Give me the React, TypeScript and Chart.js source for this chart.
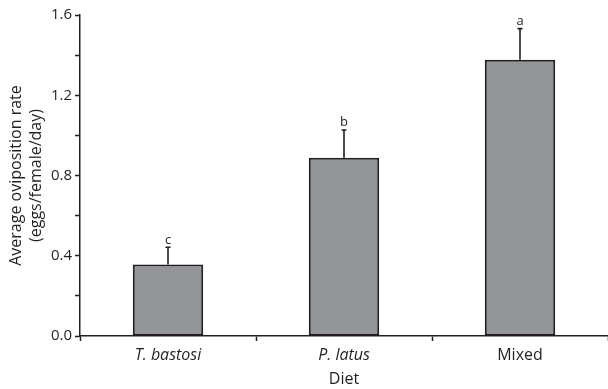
import React, { useEffect, useRef } from "react";
import { Chart, registerables } from "chart.js";

Chart.register(...registerables);

const categories = ["T. bastosi", "P. latus", "Mixed"];
const italicCats = [true, true, false];
const means = [0.357, 0.889, 1.377];
const errors = [0.085, 0.138, 0.155];
const letters = ["c", "b", "a"];

const INK = "#231f20";
const FONT = "'Open Sans', sans-serif";

const errorPlugin = {
  id: "errorLetters",
  afterDatasetsDraw(chart: any) {
    const ctx = chart.ctx;
    const meta = chart.getDatasetMeta(0);
    const y = chart.scales.y;
    ctx.save();
    ctx.strokeStyle = INK;
    ctx.fillStyle = INK;
    ctx.lineWidth = 1.6;
    meta.data.forEach((bar: any, i: number) => {
      const x = bar.x;
      const yTop = y.getPixelForValue(means[i]);
      const yErr = y.getPixelForValue(means[i] + errors[i]);
      ctx.beginPath();
      ctx.moveTo(x, yTop);
      ctx.lineTo(x, yErr);
      ctx.moveTo(x - 2.5, yErr);
      ctx.lineTo(x + 2.5, yErr);
      ctx.stroke();
      ctx.font = `13px ${FONT}`;
      ctx.textAlign = "center";
      ctx.textBaseline = "bottom";
      ctx.fillText(letters[i], x, yErr - 1);
    });
    ctx.restore();
  },
};

export default function App() {
  const ref = useRef<HTMLCanvasElement>(null);
  useEffect(() => {
    if (!ref.current) return;
    const chart = new Chart(ref.current, {
      type: "bar",
      data: {
        labels: categories,
        datasets: [
          {
            data: means,
            backgroundColor: "#939598",
            borderColor: INK,
            borderWidth: 2,
            borderSkipped: false,
            barPercentage: 0.4,
            categoryPercentage: 1,
          },
        ],
      },
      plugins: [errorPlugin],
      options: {
        animation: false,
        responsive: false,
        layout: { padding: { top: 15, right: 0, left: 0, bottom: 0 } },
        plugins: { legend: { display: false }, tooltip: { enabled: false } },
        scales: {
          x: {
            offset: true,
            grid: {
              display: true,
              offset: true,
              drawOnChartArea: false,
              drawTicks: true,
              tickLength: 5,
              tickColor: INK,
              tickWidth: 1.5,
            },
            border: { display: true, color: INK, width: 1.5 },
            ticks: {
              color: INK,
              padding: 5,
              font: (c: any) => ({
                family: FONT,
                size: 16,
                style: italicCats[c.index] ? "italic" : "normal",
              }),
            },
            title: {
              display: true,
              text: "Diet",
              color: INK,
              font: { family: FONT, size: 16 },
              padding: { top: -6, bottom: 0 },
            },
            afterFit: (s: any) => {
              s.height = 53;
            },
          },
          y: {
            min: 0,
            max: 1.6,
            grid: {
              display: true,
              drawOnChartArea: false,
              drawTicks: true,
              tickLength: 5,
              tickColor: INK,
              tickWidth: 1.5,
            },
            border: { display: true, color: INK, width: 1.5 },
            ticks: {
              stepSize: 0.2,
              color: INK,
              padding: 3,
              font: { family: FONT, size: 15 },
              callback: (v: any) => {
                const n = Math.round(Number(v) * 10);
                return n % 4 === 0 ? (n / 10).toFixed(1) : "";
              },
            },
            title: {
              display: true,
              text: ["Average oviposition rate", "(eggs/female/day)"],
              color: INK,
              font: { family: FONT, size: 16, lineHeight: 1.25 },
              padding: { top: 6, bottom: 0 },
            },
            afterFit: (s: any) => {
              s.width = 80;
            },
          },
        },
      },
    });
    return () => chart.destroy();
  }, []);
  return (
    <canvas
      ref={ref}
      width={608}
      height={389}
      style={{ position: "absolute", left: 0, top: 0, display: "block" }}
    />
  );
}
